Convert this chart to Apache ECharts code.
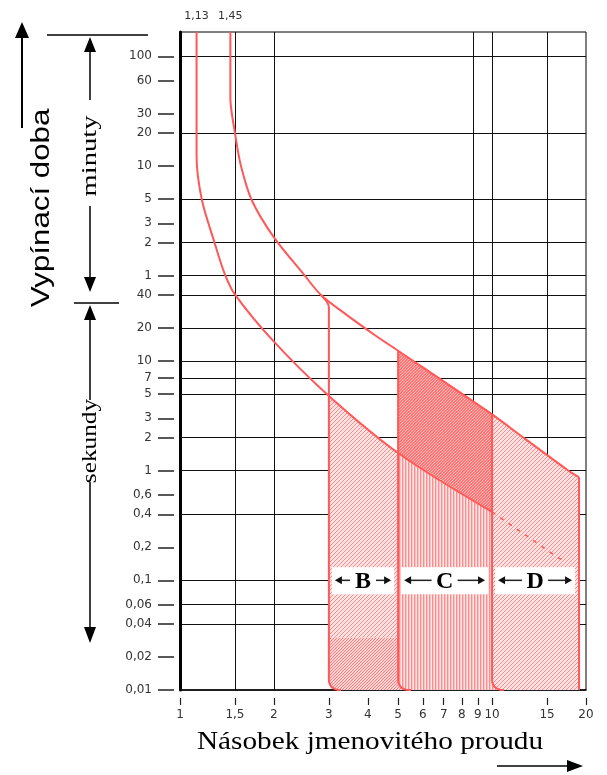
<!DOCTYPE html>
<html><head><meta charset="utf-8">
<script src="https://cdn.jsdelivr.net/npm/echarts@6/dist/echarts.min.js"></script>
<style>html,body{margin:0;padding:0;background:#fff}#c{width:607px;height:775px}</style>
</head><body><div id="c"></div>
<script>
// ---------- DATA ----------
const xTicks = [1, 1.5, 2, 3, 4, 5, 6, 7, 8, 9, 10, 15, 20];
const xGrid = [1.5, 2, 8.7, 10, 15];
const xTopMarks = [1.13, 1.45];
// time in seconds (minutes part: 100,60,30,20,10,5,3,2,1 min)
const yTicks = [6000, 3600, 1800, 1200, 600, 300, 180, 120, 60, 40, 20, 10, 7, 5, 3, 2, 1, 0.6, 0.4, 0.2, 0.1, 0.06, 0.04, 0.02, 0.01];
const yTickText = ['100', '60', '30', '20', '10', '5', '3', '2', '1', '40', '20', '10', '7', '5', '3', '2', '1', '0,6', '0,4', '0,2', '0,1', '0,06', '0,04', '0,02', '0,01'];
const yGrid = [6000, 1200, 300, 120, 60, 40, 20, 10, 7, 5, 2, 1, 0.4, 0.1, 0.06, 0.04];

// thermal curves (multiple of In, seconds)
const lowerX = [1.13, 1.13, 1.175, 1.288, 1.386, 1.495, 2, 3, 5, 10];
const lowerT = [10000, 740, 295, 122, 64, 41, 15, 4.8, 1.45, 0.42];
const lowerDashX = [10, 17];
const lowerDashT = [0.42, 0.148];
const upperX = [1.45, 1.45, 1.5, 1.566, 1.7, 2, 2.5, 2.83, 3.41, 4.24, 5, 10, 12.7, 17.4, 19];
const upperT = [10000, 2500, 1200, 610, 291, 134, 61, 40, 26.5, 17, 12.4, 3.26, 1.97, 1.02, 0.87];

// magnetic trip edges
const bEdgeX = [2.83, 2.95, 3, 3, 3.017, 3.065, 3.14, 3.23, 3.28];
const bEdgeT = [40, 35, 31, 0.0123, 0.0114, 0.0106, 0.0102, 0.01, 0.01];
const cEdgeX = [5, 5, 5.028, 5.109, 5.234, 5.384, 5.5];
const cEdgeT = [12.4, 0.0123, 0.0114, 0.0106, 0.0102, 0.01, 0.01];
const dEdgeX = [10, 10, 10.056, 10.217, 10.467, 10.768, 10.9];
const dEdgeT = [3.26, 0.0123, 0.0114, 0.0106, 0.0102, 0.01, 0.01];
const dRightX = [19, 19];
const dRightT = [0.87, 0.01];
const bDenseT = 0.03;

// zone labels
const zoneStart = [3, 5, 10];
const zoneEnd = [5, 10, 19];
const zoneName = ['B', 'C', 'D'];
const zoneLabelT = 0.1;

// ---------- BUILD ----------
const P = (xs, ts) => xs.map((x, i) => [x, ts[i]]);
const lowerPts = P(lowerX, lowerT), upperPts = P(upperX, upperT);
const between = (arr, a, b) => arr.filter(p => p[0] >= a - 1e-9 && p[0] <= b + 1e-9);
const bEdge = P(bEdgeX, bEdgeT), cEdge = P(cEdgeX, cEdgeT), dEdge = P(dEdgeX, dEdgeT), dRight = P(dRightX, dRightT);
const bendOf = e => e.filter(p => p[1] < 0.013);

const regBLight = [...between(lowerPts, 3, 5), [5, bDenseT], [3, bDenseT]];
const regBDense = [[3, bDenseT], [5, bDenseT], ...bendOf(cEdge), ...bendOf(bEdge).reverse()];
const regCDense = [...between(upperPts, 5, 10), ...between(lowerPts, 5, 10).reverse()];
const regCVert = [...between(lowerPts, 5, 10), ...bendOf(dEdge), ...bendOf(cEdge).reverse()];
const regD = [...between(upperPts, 10, 19), dRight[1], ...bendOf(dEdge).reverse()];

function makeCanvas(w, h, bg, draw) {
  const c = document.createElement('canvas'); c.width = w; c.height = h;
  const g = c.getContext('2d');
  g.fillStyle = bg; g.fillRect(0, 0, w, h);
  draw(g);
  return c;
}
const cvLight = () => makeCanvas(4, 4, 'rgb(255,226,226)', g => { g.fillStyle = 'rgb(255,140,140)'; for (let i = 0; i < 4; i++) g.fillRect(i, 3 - i, 1, 1); });
const cvLightDense = () => makeCanvas(3, 3, 'rgb(255,212,212)', g => { g.fillStyle = 'rgb(255,125,125)'; for (let i = 0; i < 3; i++) g.fillRect(i, 2 - i, 1, 1); });
const cvDense = () => makeCanvas(3, 3, 'rgb(255,118,118)', g => { g.fillStyle = 'rgb(255,185,185)'; for (let i = 0; i < 3; i++) g.fillRect(i, 2 - i, 1, 1); });
const cvVert = () => makeCanvas(3, 1, 'rgb(255,232,232)', g => { g.fillStyle = 'rgb(255,140,140)'; g.fillRect(0, 0, 1, 1); g.fillStyle = 'rgb(255,195,195)'; g.fillRect(1, 0, 1, 1); });

const RED = '#ff5858';

function regionSeries(verts, canvasFactory) {
  return {
    type: 'custom', xAxisIndex: 0, yAxisIndex: 0, z: 1, silent: true,
    data: verts,
    encode: { x: 0, y: 1 },
    renderItem: (params, api) => {
      if (params.dataIndex !== 0) return null;
      return {
        type: 'polygon',
        shape: { points: verts.map(v => api.coord(v)) },
        style: { fill: { image: canvasFactory(), repeat: 'repeat' }, stroke: null, blend: 'multiply' }
      };
    }
  };
}
function lineSeries(xs, ts, extra) {
  return Object.assign({
    type: 'line', xAxisIndex: 0, yAxisIndex: 0, z: 3, silent: true,
    data: P(xs, ts), showSymbol: false, symbol: 'none',
    lineStyle: { color: RED, width: 2 }
  }, extra || {});
}

const tickLabelFor = v => {
  let best = 0, bd = Infinity;
  yTicks.forEach((t, i) => { const d = Math.abs(Math.log(t) - Math.log(v)); if (d < bd) { bd = d; best = i; } });
  return yTickText[best];
};
const comma = v => String(+(+v).toPrecision(6)).replace('.', ',');

const tickFont = { fontFamily: 'DejaVu Sans', fontSize: 12, color: '#333' };

const option = {
  animation: false,
  backgroundColor: '#fff',
  grid: { left: 180, right: 21, top: 32, bottom: 85, show: true, borderColor: '#000', borderWidth: 1, containLabel: false, outerBoundsMode: 'none' },
  xAxis: [
    { type: 'log', logBase: 10, min: 1, max: 20, position: 'bottom',
      axisLine: { show: true, lineStyle: { color: '#000', width: 1.5 } },
      axisTick: { show: false, customValues: xGrid }, axisLabel: { show: false },
      splitLine: { show: true, lineStyle: { color: '#111', width: 1 } }, minorTick: { show: false }, minorSplitLine: { show: false } },
    { type: 'log', logBase: 10, min: 1, max: 20, position: 'bottom', offset: 8,
      axisLine: { show: false },
      axisTick: { show: true, customValues: xTicks, length: 7, lineStyle: { color: '#222', width: 1.2 } },
      axisLabel: Object.assign({ customValues: xTicks, formatter: comma, margin: 11 }, tickFont),
      splitLine: { show: false } },
    { type: 'log', logBase: 10, min: 1, max: 20, position: 'top',
      axisLine: { show: false }, axisTick: { show: false },
      axisLabel: Object.assign({ customValues: xTopMarks, formatter: comma, margin: 10 }, tickFont, { fontSize: 11 }),
      splitLine: { show: false } }
  ],
  yAxis: [
    { type: 'log', logBase: 10, min: 0.01, max: 10000, position: 'left',
      axisLine: { show: true, lineStyle: { color: '#000', width: 3 } },
      axisTick: { show: false, customValues: yGrid }, axisLabel: { show: false },
      splitLine: { show: true, lineStyle: { color: '#111', width: 1 } }, minorTick: { show: false }, minorSplitLine: { show: false } },
    { type: 'log', logBase: 10, min: 0.01, max: 10000, position: 'left', offset: 6,
      axisLine: { show: false },
      axisTick: { show: true, customValues: yTicks, length: 16, lineStyle: { color: '#222', width: 1.5 } },
      axisLabel: Object.assign({ customValues: yTicks, formatter: tickLabelFor, margin: 22 }, tickFont),
      splitLine: { show: false } }
  ],
  series: [
    regionSeries(regBLight, cvLight),
    regionSeries(regBDense, cvLightDense),
    regionSeries(regCDense, cvDense),
    regionSeries(regCVert, cvVert),
    regionSeries(regD, cvLight),
    lineSeries(lowerX, lowerT, { smooth: 0.3 }),
    lineSeries(lowerDashX, lowerDashT, { lineStyle: { color: RED, width: 1.5, type: [4, 6] } }),
    lineSeries(upperX, upperT, { smooth: 0.3 }),
    lineSeries(bEdgeX, bEdgeT, { smooth: 0.2 }),
    lineSeries(cEdgeX, cEdgeT, { smooth: 0.2 }),
    lineSeries(dEdgeX, dEdgeT, { smooth: 0.2 }),
    lineSeries(dRightX, dRightT),
    {
      type: 'custom', xAxisIndex: 0, yAxisIndex: 0, z: 10, silent: true,
      data: zoneStart.map((s, i) => [s, zoneEnd[i], zoneLabelT, i]),
      encode: { x: [0, 1], y: 2 },
      renderItem: (params, api) => {
        const s = api.value(0), e = api.value(1), t = api.value(2), name = zoneName[api.value(3)];
        const p0 = api.coord([s, t]), p1 = api.coord([e, t]);
        const l = p0[0] + 3, r = p1[0] - 4, cy = p0[1], mid = (l + r) / 2, hw = 11;
        const stroke = { stroke: '#222', lineWidth: 1.5 };
        return {
          type: 'group',
          children: [
            { type: 'rect', shape: { x: l, y: cy - 13, width: r - l, height: 27 }, style: { fill: '#fff' } },
            { type: 'line', shape: { x1: l + 9, y1: cy, x2: mid - hw - 2, y2: cy }, style: stroke },
            { type: 'line', shape: { x1: mid + hw + 2, y1: cy, x2: r - 9, y2: cy }, style: stroke },
            { type: 'polygon', shape: { points: [[l + 3, cy], [l + 10, cy - 4], [l + 10, cy + 4]] }, style: { fill: '#111' } },
            { type: 'polygon', shape: { points: [[r - 3, cy], [r - 10, cy - 4], [r - 10, cy + 4]] }, style: { fill: '#111' } },
            { type: 'text', x: mid, y: cy + 1, style: { text: name, font: 'bold 24px "Liberation Serif"', fill: '#000', align: 'center', verticalAlign: 'middle' } }
          ]
        };
      }
    }
  ],
  graphic: [
    { type: 'line', shape: { x1: 22, y1: 128, x2: 22, y2: 36 }, style: { stroke: '#000', lineWidth: 2 } },
    { type: 'polygon', shape: { points: [[22, 22], [15, 38], [29, 38]] }, style: { fill: '#000' } },
    { type: 'text', x: 42, y: 208, rotation: Math.PI / 2, scaleX: 1.25, style: { text: 'Vypínací doba', font: '25px "Liberation Sans"', fill: '#000', align: 'center', verticalAlign: 'middle' } },
    { type: 'line', shape: { x1: 47, y1: 35, x2: 148, y2: 35 }, style: { stroke: '#000', lineWidth: 1.5 } },
    { type: 'polygon', shape: { points: [[90, 37], [84, 52], [96, 52]] }, style: { fill: '#000' } },
    { type: 'line', shape: { x1: 90, y1: 52, x2: 90, y2: 100 }, style: { stroke: '#000', lineWidth: 1.5 } },
    { type: 'text', x: 90, y: 156, rotation: Math.PI / 2, scaleX: 1.3, style: { text: 'minuty', font: '22px "Liberation Serif"', fill: '#000', align: 'center', verticalAlign: 'middle' } },
    { type: 'line', shape: { x1: 90, y1: 206, x2: 90, y2: 278 }, style: { stroke: '#000', lineWidth: 1.5 } },
    { type: 'polygon', shape: { points: [[90, 292], [84, 277], [96, 277]] }, style: { fill: '#000' } },
    { type: 'line', shape: { x1: 74, y1: 303, x2: 119, y2: 303 }, style: { stroke: '#000', lineWidth: 1.5 } },
    { type: 'polygon', shape: { points: [[90, 305], [84, 320], [96, 320]] }, style: { fill: '#000' } },
    { type: 'line', shape: { x1: 90, y1: 320, x2: 90, y2: 400 }, style: { stroke: '#000', lineWidth: 1.5 } },
    { type: 'text', x: 90, y: 441, rotation: Math.PI / 2, scaleX: 1.15, style: { text: 'sekundy', font: '22px "Liberation Serif"', fill: '#000', align: 'center', verticalAlign: 'middle' } },
    { type: 'line', shape: { x1: 90, y1: 482, x2: 90, y2: 628 }, style: { stroke: '#000', lineWidth: 1.5 } },
    { type: 'polygon', shape: { points: [[90, 643], [84, 627], [96, 627]] }, style: { fill: '#000' } },
    { type: 'text', x: 370, y: 742, scaleX: 1.17, style: { text: 'Násobek jmenovitého proudu', font: '25px "Liberation Serif"', fill: '#000', align: 'center', verticalAlign: 'middle' } },
    { type: 'line', shape: { x1: 497, y1: 766, x2: 570, y2: 766 }, style: { stroke: '#000', lineWidth: 1.5 } },
    { type: 'polygon', shape: { points: [[583, 766], [567, 760], [567, 772]] }, style: { fill: '#000' } }
  ]
};
const chart = echarts.init(document.getElementById('c'));
chart.setOption(option);
</script>
</body></html>
